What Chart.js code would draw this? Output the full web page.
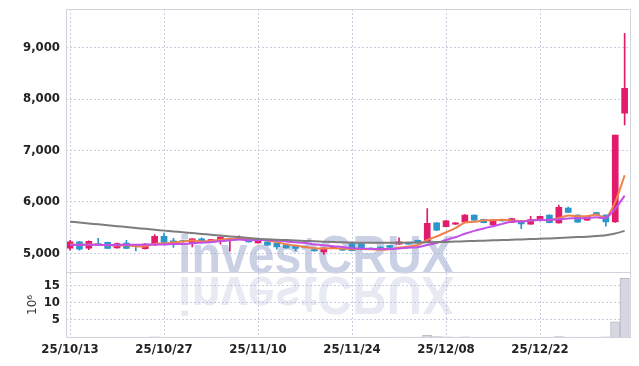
<!DOCTYPE html>
<html>
<head>
<meta charset="utf-8">
<script src="https://cdn.jsdelivr.net/npm/chart.js@4"></script>
<style>
html,body{margin:0;padding:0;background:#fff;}
#wrap{position:relative;width:639px;height:366px;}
</style>
</head>
<body>
<div id="wrap"><canvas id="canvas" width="639" height="366"></canvas></div>
<script>
const dates=["25/10/13","25/10/14","25/10/15","25/10/16","25/10/17","25/10/20","25/10/21","25/10/22","25/10/23","25/10/24",
"25/10/27","25/10/28","25/10/29","25/10/30","25/10/31","25/11/03","25/11/04","25/11/05","25/11/06","25/11/07",
"25/11/10","25/11/11","25/11/12","25/11/13","25/11/14","25/11/17","25/11/18","25/11/19","25/11/20","25/11/21",
"25/11/24","25/11/25","25/11/26","25/11/27","25/11/28","25/12/01","25/12/02","25/12/03","25/12/04","25/12/05",
"25/12/08","25/12/09","25/12/10","25/12/11","25/12/12","25/12/15","25/12/16","25/12/17","25/12/18","25/12/19",
"25/12/22","25/12/23","25/12/24","25/12/26","25/12/29","25/12/30","26/01/02","26/01/05","26/01/06","26/01/07"];
const opens=[5100,5220,5100,5190,5210,5105,5200,5150,5090,5160,
5330,5240,5240,5200,5280,5245,5240,5255,5270,5270,
5200,5220,5200,5170,5140,5130,5072,5025,5095,5075,
5190,5185,5100,5120,5150,5175,5205,5250,5220,5590,
5515,5565,5610,5740,5660,5550,5650,5600,5625,5565,
5635,5740,5590,5880,5740,5645,5790,5740,5610,7725];
const closes=[5220,5080,5230,5160,5095,5190,5095,5130,5180,5330,
5210,5190,5225,5280,5240,5255,5315,5285,5315,5222,
5260,5158,5125,5105,5095,5115,5045,5100,5135,5060,
5048,5070,5075,5075,5112,5220,5178,5200,5580,5450,
5630,5590,5740,5645,5595,5650,5630,5675,5570,5655,
5720,5595,5895,5795,5605,5720,5745,5610,7300,8210];
const highs=[5250,5230,5240,5290,5215,5200,5250,5160,5190,5365,
5390,5290,5250,5285,5300,5270,5320,5290,5340,5275,
5270,5225,5205,5175,5145,5140,5075,5105,5140,5080,
5195,5190,5105,5125,5155,5298,5210,5255,5870,5595,
5640,5595,5750,5745,5665,5655,5660,5680,5630,5720,
5725,5745,5935,5900,5745,5725,5800,5745,7300,9280];
const lows=[5060,5060,5070,5150,5090,5100,5090,5045,5080,5150,
5200,5115,5210,5125,5190,5235,5175,5040,5265,5215,
5195,5150,5078,5100,5045,5105,5040,4975,5090,5055,
5045,5065,5070,5070,5105,5170,5175,5195,5215,5440,
5510,5560,5600,5640,5590,5545,5625,5595,5480,5560,
5630,5590,5585,5790,5600,5640,5740,5526,5600,7495];
const ma5=[5175,5165,5170,5165,5157,5151,5154,5134,5138,5185,
5189,5208,5227,5247,5229,5238,5263,5275,5282,5278,
5279,5248,5216,5174,5149,5120,5097,5092,5098,5091,
5078,5083,5078,5066,5076,5110,5132,5157,5258,5326,
5408,5490,5598,5611,5640,5644,5652,5639,5624,5636,
5650,5643,5687,5732,5722,5722,5752,5695,5996,6517];
const ma10=[5160,5162,5165,5163,5160,5162,5165,5166,5168,5171,
5170,5181,5181,5193,5207,5214,5236,5251,5265,5254,
5259,5256,5246,5228,5214,5200,5173,5154,5136,5120,
5099,5090,5085,5082,5084,5094,5107,5117,5162,5201,
5259,5311,5378,5435,5483,5526,5571,5619,5618,5638,
5647,5648,5663,5678,5679,5686,5698,5691,5864,6120];
const ma60=[5615,5597,5580,5562,5545,5527,5510,5492,5475,5458,
5440,5424,5408,5392,5376,5360,5344,5328,5312,5296,
5280,5272,5264,5256,5248,5240,5232,5225,5218,5212,
5207,5204,5202,5202,5203,5205,5207,5210,5213,5217,
5221,5227,5233,5239,5245,5251,5257,5263,5269,5275,
5282,5289,5297,5305,5314,5323,5334,5350,5385,5435];
const volumes=[0.12,0.1,0.1,0.08,0.1,0.09,0.1,0.08,0.1,0.15,
0.12,0.1,0.08,0.1,0.09,0.08,0.1,0.12,0.09,0.08,
0.08,0.09,0.1,0.08,0.09,0.07,0.1,0.12,0.08,0.07,
0.1,0.09,0.07,0.07,0.08,0.12,0.08,0.1,0.7,0.25,
0.15,0.1,0.15,0.1,0.09,0.1,0.08,0.1,0.12,0.1,
0.1,0.1,0.2,0.12,0.1,0.08,0.1,0.15,4.5,17.0];
const priceTicks=[5000,6000,7000,8000,9000];
const volTicks=[5,10,15];
const dateTicks=[0,10,20,30,40,50];
const markText="investCRUX";

const UP="#e31b6d";
const DOWN="#2b95cc";
const gridColor="#c9cde0";
const tickFont={family:"'Liberation Sans Narrow','DejaVu Sans Condensed',sans-serif",size:13,weight:"bold"};

const colors=opens.map((o,i)=>closes[i]>=o?UP:DOWN);

const watermark={
    id:"watermark",
    beforeDatasetsDraw(chart){
        const ctx=chart.ctx;
        ctx.save();
        ctx.font="bold 54px 'Liberation Sans',Arial,sans-serif";
        const w=ctx.measureText(markText).width;
        ctx.translate(178,273);
        ctx.scale(276/w,1);
        ctx.fillStyle="rgba(160,172,208,0.55)";
        ctx.fillText(markText,0,0);
        ctx.translate(0,4);
        ctx.scale(1,-1);
        ctx.fillStyle="rgba(160,172,208,0.25)";
        ctx.fillText(markText,0,0);
        ctx.restore();
    }
};
const frame={
    id:"frame",
    afterDraw(chart){
        const ctx=chart.ctx;
        const a=chart.chartArea;
        const sep=chart.scales.y.bottom;
        ctx.save();
        ctx.strokeStyle="#d2d3dc";
        ctx.lineWidth=1;
        ctx.strokeRect(Math.round(a.left)+0.5,Math.round(a.top)+0.5,Math.round(a.right-a.left),Math.round(a.bottom-a.top));
        ctx.beginPath();
        ctx.moveTo(a.left,Math.round(sep)+0.5);
        ctx.lineTo(a.right,Math.round(sep)+0.5);
        ctx.stroke();
        ctx.restore();
    }
};

function pts(arr){
    return arr.map((v,i)=>({x:i,y:v}));
}
function maLine(arr,color){
    return {
        type:"line",
        data:pts(arr),
        yAxisID:"y",
        borderColor:color,
        borderWidth:2,
        pointRadius:0,
        tension:0.25,
        order:0
    };
}
function fitY(s){
    s.width=66;
    s.paddingTop=0;
    s.paddingBottom=0;
}

new Chart(document.getElementById("canvas"),{
    type:"bar",
    data:{
        datasets:[
            maLine(ma60,"#7d7d7d"),
            maLine(ma10,"#c24fe6"),
            maLine(ma5,"#f08248"),
            {
                data:opens.map((o,i)=>({x:i,y:[o,closes[i]]})),
                yAxisID:"y",
                backgroundColor:colors,
                barThickness:6,
                minBarLength:1,
                grouped:false,
                order:1
            },
            {
                data:lows.map((l,i)=>({x:i,y:[l,highs[i]]})),
                yAxisID:"y",
                backgroundColor:colors,
                barThickness:1,
                grouped:false,
                order:2
            },
            {
                data:pts(volumes),
                yAxisID:"yv",
                backgroundColor:"#d7d7e1",
                borderColor:"#b9b9c8",
                borderWidth:1,
                barPercentage:1,
                categoryPercentage:1,
                grouped:false,
                order:3
            }
        ]
    },
    options:{
        responsive:false,
        animation:false,
        layout:{padding:{top:9,right:9,bottom:5,left:0}},
        plugins:{
            legend:{display:false},
            tooltip:{enabled:false}
        },
        scales:{
            x:{
                type:"linear",
                min:-0.43,
                max:59.57,
                offset:false,
                afterBuildTicks:s=>{s.ticks=dateTicks.map(v=>({value:v}));},
                afterFit:s=>{s.paddingLeft=0;s.paddingRight=0;},
                ticks:{
                    autoSkip:false,
                    maxRotation:0,
                    padding:4,
                    color:"#222",
                    font:tickFont,
                    callback:v=>dates[v]
                },
                grid:{color:gridColor,drawTicks:false,offset:false},
                border:{display:false,dash:[2,2]}
            },
            yv:{
                type:"linear",
                position:"left",
                stack:"main",
                stackWeight:65,
                min:0,
                max:18.7,
                afterBuildTicks:s=>{s.ticks=volTicks.map(v=>({value:v}));},
                afterFit:fitY,
                ticks:{autoSkip:false,padding:6,color:"#222",font:tickFont},
                grid:{color:gridColor,drawTicks:false},
                border:{display:false,dash:[2,2]},
                title:{
                    display:true,
                    text:"10⁶",
                    color:"#333",
                    font:{family:"'DejaVu Sans',sans-serif",size:12},
                    padding:{top:26,bottom:0}
                }
            },
            y:{
                type:"linear",
                position:"left",
                stack:"main",
                stackWeight:263,
                min:4629,
                max:9751,
                afterBuildTicks:s=>{s.ticks=priceTicks.map(v=>({value:v}));},
                afterFit:fitY,
                ticks:{
                    autoSkip:false,
                    padding:6,
                    color:"#222",
                    font:tickFont,
                    callback:v=>v.toLocaleString("en-US")
                },
                grid:{color:gridColor,drawTicks:false},
                border:{display:false,dash:[2,2]}
            }
        }
    },
    plugins:[watermark,frame]
});
</script>
</body>
</html>
